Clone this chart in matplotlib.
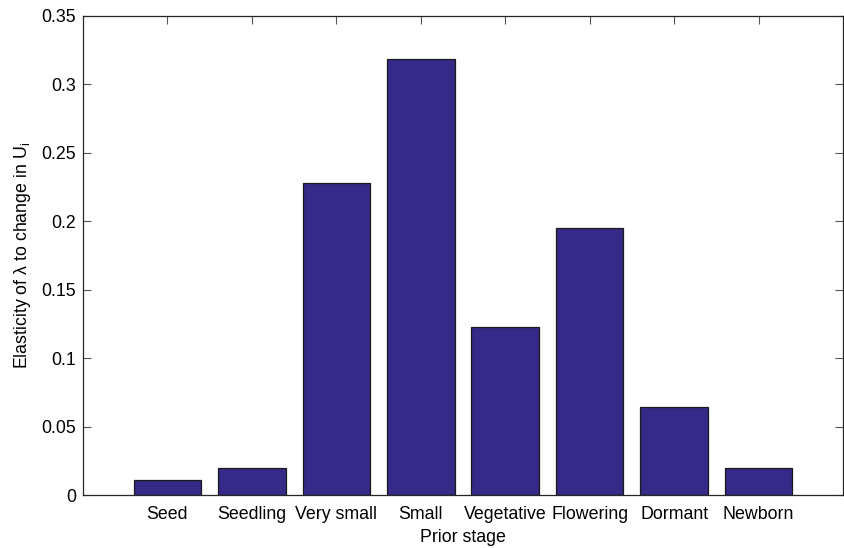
import matplotlib.pyplot as plt

# Elasticity of lambda to change in U_i, per prior stage
stages = ["Seed", "Seedling", "Very small", "Small",
          "Vegetative", "Flowering", "Dormant", "Newborn"]
elasticity = [0.011, 0.020, 0.228, 0.3187, 0.1228, 0.1953, 0.0643, 0.020]

plt.rcParams['font.family'] = ['Liberation Sans', 'DejaVu Sans']
plt.rcParams['mathtext.fontset'] = 'custom'
plt.rcParams['mathtext.rm'] = 'Liberation Sans'
plt.rcParams['mathtext.it'] = 'Liberation Sans'

fig = plt.figure(figsize=(8.45, 5.48), dpi=100)
ax = fig.add_axes([83 / 845, 1 - 495 / 548, 760 / 845, 479 / 548])

pos = list(range(1, len(stages) + 1))
ax.bar(pos, elasticity, width=0.8, color='#352A87', edgecolor='#1a1a1a', linewidth=0.9)

ax.set_xlim(0, len(stages) + 1)
ax.set_ylim(0, 0.35)
ax.set_xticks(pos)
ax.set_xticklabels(stages)
ax.set_yticks([0, 0.05, 0.1, 0.15, 0.2, 0.25, 0.3, 0.35])
ax.set_yticklabels(['0', '0.05', '0.1', '0.15', '0.2', '0.25', '0.3', '0.35'])

# ticks sit under the bars, like the original
ax.set_axisbelow(True)
ax.tick_params(direction='in', length=6, width=0.8, color='#555555',
               labelsize=12.8, top=True, right=True)
ax.tick_params(axis='x', pad=8)
ax.tick_params(axis='y', pad=5)
for s in ax.spines.values():
    s.set_color('#262626')
    s.set_linewidth(0.9)

ax.set_xlabel('Prior stage', fontsize=12.8, labelpad=4)
ax.set_ylabel(r'Elasticity of $\lambda$ to change in U$_{\mathrm{i}}$', fontsize=12.8, labelpad=6)

plt.savefig('out.png', dpi=100)
